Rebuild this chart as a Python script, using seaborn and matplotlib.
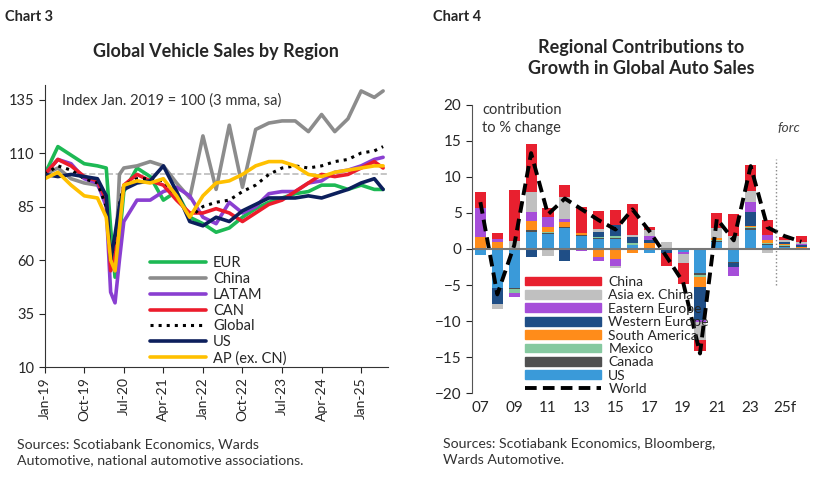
import numpy as np
import pandas as pd
import matplotlib
matplotlib.use("Agg")
import matplotlib.pyplot as plt
import seaborn as sns
from matplotlib.lines import Line2D
from matplotlib.patches import Patch

sns.set_style("white")
plt.rcParams['font.family'] = ['Lato', 'DejaVu Sans']

# ---------- Chart 3 data ----------
months = [0,3,6,9,12,14,15,16,17,18,21,24,27,30,33,36,39,42,45,48,51,54,57,60,63,66,69,72,75,77]
eur    = [100,113,109,105,104,103,75,52,70,92,103,99,88,92,80,77,73,75,80,84,87,89,91,92,95,95,93,95,93,93]
china  = [100,103,98,96,95,88,60,55,100,103,104,106,104,96,89,118,93,123,94,121,124,125,125,120,128,120,126,139,136,139]
latam  = [100,107,105,98,96,85,45,40,60,78,88,88,92,94,90,80,77,87,82,85,91,92,92,96,97,101,102,104,107,108]
can    = [100,107,104,99,97,88,55,62,80,95,100,97,95,88,82,82,84,82,78,82,86,88,92,96,100,99,100,103,106,103]
glob   = [100,104,102,98,96,85,60,70,86,95,98,98,97,90,80,85,87,88,92,95,100,103,104,103,104,106,107,110,111,113]
us     = [100,99,100,99,98,90,60,72,85,93,96,97,104,92,78,76,80,78,83,86,89,89,89,90,89,91,93,96,98,93]
ap     = [98,101,95,90,89,80,60,55,75,95,97,96,98,90,80,90,96,97,100,104,106,106,104,100,99,101,102,103,104,104]
tick_months = [0,9,18,27,36,45,54,63,72]
tick_labels = ['Jan-19','Oct-19','Jul-20','Apr-21','Jan-22','Oct-22','Jul-23','Apr-24','Jan-25']

# ---------- Chart 4 data ----------
years = list(range(2007, 2027))
c_us  = [-0.8,-5.4,-5.4,2.4,2.1,2.9,1.8,1.4,1.4,0.5,-0.5,-0.2,-0.4,-3.3,1.0,-1.8,2.7,0.6,0.3,-0.2]
c_can = [0.0,0.0,-0.2,0.2,0.1,0.1,0.1,0.1,0.1,0.1,0.0,0.0,0.0,-0.3,0.1,-0.1,0.2,0.1,0.1,0.1]
c_mex = [0.0,0.0,-0.5,0.1,0.1,0.1,0.1,0.2,0.3,0.2,0.1,0.0,0.0,-0.3,0.1,0.0,0.2,0.1,0.1,0.1]
c_sa  = [1.7,0.9,0.1,1.2,0.8,0.7,0.2,-1.1,-1.4,-0.5,0.7,0.2,0.0,-1.4,0.3,0.0,0.1,0.4,0.2,0.1]
c_we  = [0.0,-2.3,0.1,-1.1,0.0,-1.7,0.0,0.6,1.5,0.9,0.5,-0.3,0.0,-4.6,0.0,-0.6,1.9,0.0,0.2,0.3]
c_ee  = [4.0,0.5,-0.6,1.2,1.4,0.4,-0.3,-0.5,-0.9,0.0,0.5,0.0,-0.3,-0.2,0.0,-1.3,1.4,0.8,0.1,0.1]
c_asia= [0.0,-0.6,0.9,2.8,-1.0,3.0,0.0,0.5,-0.4,0.3,0.8,0.8,-1.3,-2.5,1.4,1.8,1.6,-0.6,0.3,0.2]
c_cn  = [2.2,0.8,7.1,6.7,1.2,1.7,3.6,2.5,2.1,4.3,0.4,-1.8,-2.9,-1.6,2.1,3.1,3.6,2.0,0.3,0.9]
world = [6.5,-6.3,0.5,13.3,4.8,7.0,5.5,4.0,2.7,5.5,2.5,-1.0,-4.6,-14.5,4.2,1.2,11.5,3.0,1.8,1.0]
xlabels4 = ['07','09','11','13','15','17','19','21','23','25f']

fig = plt.figure(figsize=(8.28, 4.83), dpi=100)
fig.text(0.006, 0.965, 'Chart 3', fontsize=10.5, fontweight='bold', va='center')
fig.text(0.523, 0.965, 'Chart 4', fontsize=10.5, fontweight='bold', va='center')

# ---------- Left ----------
ax1 = fig.add_axes([0.054, 0.24, 0.414, 0.585])
df = pd.DataFrame({'m': months, 'EUR': eur, 'China': china, 'LATAM': latam, 'CAN': can,
                   'Global': glob, 'US': us, 'AP (ex. CN)': ap})
series = [('EUR', '#1db954', '-'), ('China', '#8c8c8c', '-'), ('LATAM', '#8a3fd1', '-'),
          ('CAN', '#ec1c2c', '-'), ('Global', 'black', ':'), ('US', '#0c1f5c', '-'),
          ('AP (ex. CN)', '#ffc000', '-')]
ax1.axhline(100, color='#bbbbbb', ls='--', lw=1.2, zorder=0)
handles = []
for name, col, ls in series:
    lw = 2.2 if ls == ':' else 2.6
    sns.lineplot(data=df, x='m', y=name, ax=ax1, color=col, lw=lw, linestyle=ls)
    handles.append(Line2D([0], [0], color=col, lw=lw, ls=ls))
ax1.set_xlim(0, 78)
ax1.set_ylim(10, 142)
ax1.set_yticks([10, 35, 60, 85, 110, 135])
ax1.set_xticks(tick_months)
ax1.set_xticklabels(tick_labels, rotation=90, fontsize=10)
ax1.tick_params(axis='y', labelsize=10.5, length=4, direction='out', left=True)
ax1.tick_params(axis='x', length=4, direction='out', bottom=True)
ax1.set_xlabel(''); ax1.set_ylabel('')
for s in ['top', 'right']:
    ax1.spines[s].set_visible(False)
for s in ['left', 'bottom']:
    ax1.spines[s].set_color('#333333')
ax1.set_title('Global Vehicle Sales by Region', fontsize=13, fontweight='bold', pad=20)
ax1.text(0.05, 0.97, 'Index Jan. 2019 = 100 (3 mma, sa)', transform=ax1.transAxes,
         fontsize=10.5, color='#333333', va='top')
ax1.legend(handles, [s[0] for s in series], loc='lower left', bbox_to_anchor=(0.27, -0.04),
           frameon=False, fontsize=10.5, handlelength=3.8, labelspacing=0.12, handletextpad=0.5)
fig.text(0.02, 0.04, 'Sources: Scotiabank Economics, Wards\nAutomotive, national automotive associations.',
         fontsize=10.2, color='#333333', linespacing=1.4)

# ---------- Right ----------
ax2 = fig.add_axes([0.57, 0.186, 0.408, 0.597])
comps = [('US', c_us, '#3a9ad9'), ('Canada', c_can, '#505050'), ('Mexico', c_mex, '#86c9a0'),
         ('South America', c_sa, '#ff8c1a'), ('Western Europe', c_we, '#1f4e86'),
         ('Eastern Europe', c_ee, '#a64ed9'), ('Asia ex. China', c_asia, '#c0c0c0'),
         ('China', c_cn, '#e8202f')]
x = np.arange(len(years))
pos = np.zeros(len(years)); neg = np.zeros(len(years))
for name, vals, col in comps:
    v = np.array(vals, dtype=float)
    bottoms = np.where(v >= 0, pos, neg)
    ax2.bar(x, v, bottom=bottoms, color=col, width=0.66, linewidth=0)
    pos += np.where(v >= 0, v, 0); neg += np.where(v < 0, v, 0)
wdf = pd.DataFrame({'x': x, 'World': world})
sns.lineplot(data=wdf, x='x', y='World', ax=ax2, color='black', lw=2.8, linestyle=(0, (3, 1.6)))
ax2.axhline(0, color='#777777', lw=1.5)
ax2.vlines(17.5, -5, 12.5, color='#888888', ls=':', lw=1)
ax2.text(17.6, 16.2, 'forc', fontsize=10, style='italic', color='#444444')
ax2.set_xlim(-0.5, 19.5)
ax2.set_ylim(-20, 20)
ax2.set_yticks(range(-20, 21, 5))
ax2.set_xticks(range(0, 20, 2))
ax2.set_xticklabels(xlabels4, fontsize=11)
ax2.tick_params(axis='y', labelsize=11, length=4, direction='out', left=True)
ax2.tick_params(axis='x', length=0, pad=6)
ax2.set_xlabel(''); ax2.set_ylabel('')
for s in ['top', 'right', 'bottom']:
    ax2.spines[s].set_visible(False)
ax2.spines['left'].set_color('#555555')
ax2.text(0.03, 1.005, 'contribution\nto % change', transform=ax2.transAxes, fontsize=10.5,
         va='top', color='#333333', linespacing=1.3)
ax2.set_title('Regional Contributions to\nGrowth in Global Auto Sales', fontsize=13,
              fontweight='bold', pad=22, linespacing=1.3)
leg_h = [Patch(color=c) for _, _, c in comps[::-1]] + [Line2D([0], [0], color='black', lw=2.8, ls=(0, (3, 1.6)))]
leg_l = [n for n, _, _ in comps[::-1]] + ['World']
ax2.legend(leg_h, leg_l, loc='lower left', bbox_to_anchor=(0.12, -0.05), frameon=False,
           fontsize=10, handlelength=5.5, handleheight=0.6, labelspacing=0.1, handletextpad=0.5)
fig.text(0.535, 0.04, 'Sources: Scotiabank Economics, Bloomberg,\nWards Automotive.',
         fontsize=10.2, color='#333333', linespacing=1.4)

fig.savefig('out.png', dpi=100)
